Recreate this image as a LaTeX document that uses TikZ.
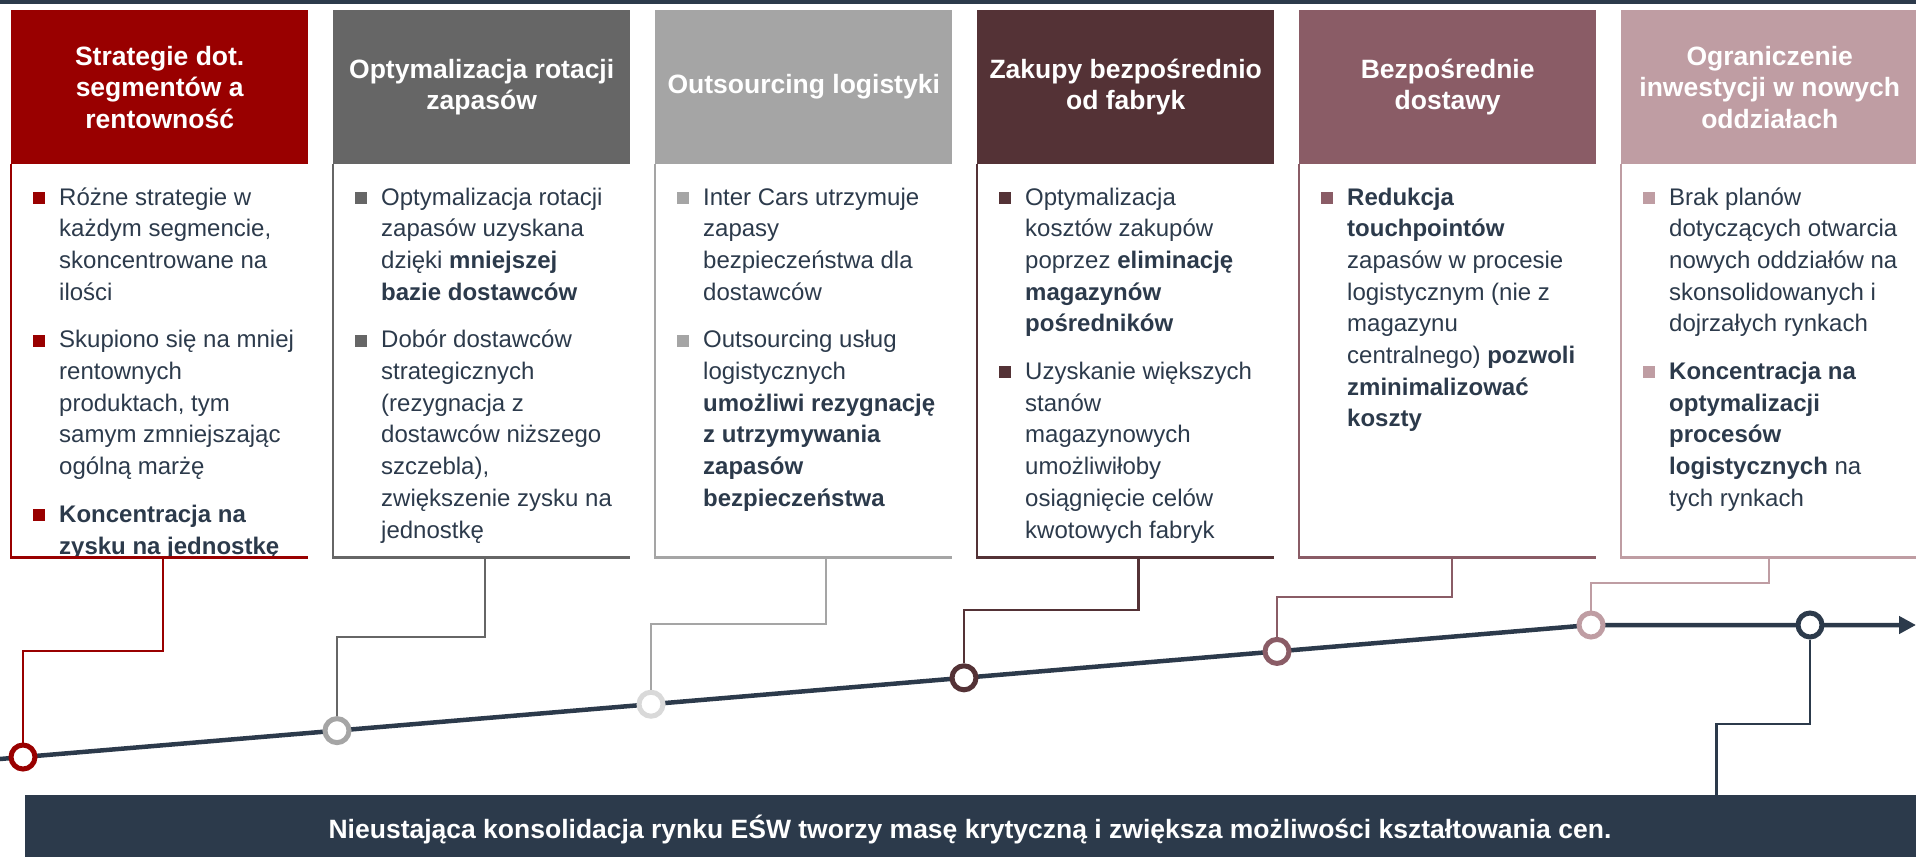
\documentclass[tikz,border=0pt]{standalone}
\usepackage{fontspec}
\setmainfont{Liberation Sans}
\usetikzlibrary{arrows.meta}
\definecolor{cA}{HTML}{990000}
\definecolor{cB}{HTML}{666666}
\definecolor{cC}{HTML}{A5A5A5}
\definecolor{cG}{HTML}{D9D9D9}
\definecolor{cD}{HTML}{543236}
\definecolor{cE}{HTML}{8A5C66}
\definecolor{cF}{HTML}{BF9DA3}
\definecolor{navy}{HTML}{2C3A4B}
\tikzset{
 hdr/.style={anchor=north west, minimum width=297pt, minimum height=154pt, inner sep=0pt, align=center, text=white, font=\fontsize{26.5}{31.5}\selectfont\bfseries},
 bodybox/.style={anchor=north west, minimum width=297pt, minimum height=393pt, inner sep=0pt},
 bord/.style={line width=2.5pt},
 bodytxt/.style={anchor=base west, inner sep=0pt, text=navy, font=\fontsize{24}{30}\selectfont},
 bsq/.style={anchor=south west, minimum size=12pt, inner sep=0pt, draw=none},
 conn/.style={line width=2.5pt},
 dot/.style={circle, draw, line width=5pt, fill=white, minimum size=24pt, inner sep=0pt},
 tl/.style={draw=navy, line width=4.5pt},
 bartxt/.style={anchor=base, inner sep=0pt, text=white, font=\fontsize{26.5}{30}\selectfont\bfseries},
}
\newcommand\bline[5]{\node[bodytxt] (#1) at ({#2+48},{205+31.7*#3+16*#4}) {#5};}
\newcommand\bsqr[5]{\node[bsq,fill=#5] (#1) at ({#2+22},{205+31.7*#3+16*#4-1}) {};}
\begin{document}
\begin{tikzpicture}[x=1pt,y=-1pt]
\useasboundingbox (0,0) rectangle (1916,857);
\fill[navy] (0,0) rectangle (1916,3.5);
% headers
\node[hdr,fill=cA] (h1) at (11,10) {Strategie dot.\\segmentów a\\rentowność};
\node[hdr,fill=cB] (h2) at (333,10) {Optymalizacja rotacji\\zapasów};
\node[hdr,fill=cC] (h3) at (655,10) {Outsourcing logistyki};
\node[hdr,fill=cD] (h4) at (977,10) {Zakupy bezpośrednio\\od fabryk};
\node[hdr,fill=cE] (h5) at (1299,10) {Bezpośrednie\\dostawy};
\node[hdr,fill=cF] (h6) at (1621,10) {Ograniczenie\\inwestycji w nowych\\oddziałach};
% body boxes
\node[bodybox] (b1) at (11,164) {};
\node[bodybox] (b2) at (333,164) {};
\node[bodybox] (b3) at (655,164) {};
\node[bodybox] (b4) at (977,164) {};
\node[bodybox] (b5) at (1299,164) {};
\node[bodybox] (b6) at (1621,164) {};
% box 1 text
\bsqr{s11}{11}{0}{0}{cA}
\bline{t11a}{11}{0}{0}{Różne strategie w}
\bline{t11b}{11}{1}{0}{każdym segmencie,}
\bline{t11c}{11}{2}{0}{skoncentrowane na}
\bline{t11d}{11}{3}{0}{ilości}
\bsqr{s12}{11}{4}{1}{cA}
\bline{t12a}{11}{4}{1}{Skupiono się na mniej}
\bline{t12b}{11}{5}{1}{rentownych}
\bline{t12c}{11}{6}{1}{produktach, tym}
\bline{t12d}{11}{7}{1}{samym zmniejszając}
\bline{t12e}{11}{8}{1}{ogólną marżę}
\bsqr{s13}{11}{9}{2}{cA}
\bline{t13a}{11}{9}{2}{\textbf{Koncentracja na}}
\bline{t13b}{11}{10}{2}{\textbf{zysku na jednostkę}}
% box 2 text
\bsqr{s21}{333}{0}{0}{cB}
\bline{t21a}{333}{0}{0}{Optymalizacja rotacji}
\bline{t21b}{333}{1}{0}{zapasów uzyskana}
\bline{t21c}{333}{2}{0}{dzięki \textbf{mniejszej}}
\bline{t21d}{333}{3}{0}{\textbf{bazie dostawców}}
\bsqr{s22}{333}{4}{1}{cB}
\bline{t22a}{333}{4}{1}{Dobór dostawców}
\bline{t22b}{333}{5}{1}{strategicznych}
\bline{t22c}{333}{6}{1}{(rezygnacja z}
\bline{t22d}{333}{7}{1}{dostawców niższego}
\bline{t22e}{333}{8}{1}{szczebla),}
\bline{t22f}{333}{9}{1}{zwiększenie zysku na}
\bline{t22g}{333}{10}{1}{jednostkę}
% box 3 text
\bsqr{s31}{655}{0}{0}{cC}
\bline{t31a}{655}{0}{0}{Inter Cars utrzymuje}
\bline{t31b}{655}{1}{0}{zapasy}
\bline{t31c}{655}{2}{0}{bezpieczeństwa dla}
\bline{t31d}{655}{3}{0}{dostawców}
\bsqr{s32}{655}{4}{1}{cC}
\bline{t32a}{655}{4}{1}{Outsourcing usług}
\bline{t32b}{655}{5}{1}{logistycznych}
\bline{t32c}{655}{6}{1}{\textbf{umożliwi rezygnację}}
\bline{t32d}{655}{7}{1}{\textbf{z utrzymywania}}
\bline{t32e}{655}{8}{1}{\textbf{zapasów}}
\bline{t32f}{655}{9}{1}{\textbf{bezpieczeństwa}}
% box 4 text
\bsqr{s41}{977}{0}{0}{cD}
\bline{t41a}{977}{0}{0}{Optymalizacja}
\bline{t41b}{977}{1}{0}{kosztów zakupów}
\bline{t41c}{977}{2}{0}{poprzez \textbf{eliminację}}
\bline{t41d}{977}{3}{0}{\textbf{magazynów}}
\bline{t41e}{977}{4}{0}{\textbf{pośredników}}
\bsqr{s42}{977}{5}{1}{cD}
\bline{t42a}{977}{5}{1}{Uzyskanie większych}
\bline{t42b}{977}{6}{1}{stanów}
\bline{t42c}{977}{7}{1}{magazynowych}
\bline{t42d}{977}{8}{1}{umożliwiłoby}
\bline{t42e}{977}{9}{1}{osiągnięcie celów}
\bline{t42f}{977}{10}{1}{kwotowych fabryk}
% box 5 text
\bsqr{s51}{1299}{0}{0}{cE}
\bline{t51a}{1299}{0}{0}{\textbf{Redukcja}}
\bline{t51b}{1299}{1}{0}{\textbf{touchpointów}}
\bline{t51c}{1299}{2}{0}{zapasów w procesie}
\bline{t51d}{1299}{3}{0}{logistycznym (nie z}
\bline{t51e}{1299}{4}{0}{magazynu}
\bline{t51f}{1299}{5}{0}{centralnego) \textbf{pozwoli}}
\bline{t51g}{1299}{6}{0}{\textbf{zminimalizować}}
\bline{t51h}{1299}{7}{0}{\textbf{koszty}}
% box 6 text
\bsqr{s61}{1621}{0}{0}{cF}
\bline{t61a}{1621}{0}{0}{Brak planów}
\bline{t61b}{1621}{1}{0}{dotyczących otwarcia}
\bline{t61c}{1621}{2}{0}{nowych oddziałów na}
\bline{t61d}{1621}{3}{0}{skonsolidowanych i}
\bline{t61e}{1621}{4}{0}{dojrzałych rynkach}
\bsqr{s62}{1621}{5}{1}{cF}
\bline{t62a}{1621}{5}{1}{\textbf{Koncentracja na}}
\bline{t62b}{1621}{6}{1}{\textbf{optymalizacji}}
\bline{t62c}{1621}{7}{1}{\textbf{procesów}}
\bline{t62d}{1621}{8}{1}{\textbf{logistycznych} na}
\bline{t62e}{1621}{9}{1}{tych rynkach}
% body borders
\draw[bord,cA] (b1.north west) -- (b1.south west) -- (b1.south east);
\draw[bord,cB] (b2.north west) -- (b2.south west) -- (b2.south east);
\draw[bord,cC] (b3.north west) -- (b3.south west) -- (b3.south east);
\draw[bord,cD] (b4.north west) -- (b4.south west) -- (b4.south east);
\draw[bord,cE] (b5.north west) -- (b5.south west) -- (b5.south east);
\draw[bord,cF] (b6.north west) -- (b6.south west) -- (b6.south east);
% timeline points
\coordinate (t0) at (0,759);
\coordinate (p1) at (23,757);
\coordinate (p2) at (337,730.6);
\coordinate (p3) at (651,704.2);
\coordinate (p4) at (964,677.8);
\coordinate (p5) at (1277,651.4);
\coordinate (p6) at (1591,625);
\coordinate (p7) at (1810,625);
\coordinate (tend) at (1916,625);
\draw[tl,-{Triangle[length=17pt,width=17pt]}] (t0) -- (p1) -- (p2) -- (p3) -- (p4) -- (p5) -- (p6) -- (tend);
% bottom bar
\node[fill=navy, anchor=north west, minimum width=1891.5pt, minimum height=62pt, inner sep=0pt] (bar) at (24.5,795) {};
\node[bartxt] (bartext) at (970,838) {Nieustająca konsolidacja rynku EŚW tworzy masę krytyczną i zwiększa możliwości kształtowania cen.};
% circles
\node[dot,draw=cA] (c1) at (p1) {};
\node[dot,draw=cC] (c2) at (p2) {};
\node[dot,draw=cG] (c3) at (p3) {};
\node[dot,draw=cD] (c4) at (p4) {};
\node[dot,draw=cE] (c5) at (p5) {};
\node[dot,draw=cF] (c6) at (p6) {};
\node[dot,draw=navy] (c7) at (p7) {};
% connectors
\coordinate (k1) at (163,557);
\coordinate (k2) at (485,557);
\coordinate (k3) at (826,557);
\coordinate (k4) at (1138.5,557);
\coordinate (k5) at (1452,557);
\coordinate (k6) at (1769,557);
\coordinate (k7) at (1716.5,795);
\draw[conn,cA] (k1) -- (163,651) -| (c1.north);
\draw[conn,cB] (k2) -- (485,637) -| (c2.north);
\draw[conn,cC] (k3) -- (826,624) -| (c3.north);
\draw[conn,cD] (k4) -- (1138.5,610) -| (c4.north);
\draw[conn,cE] (k5) -- (1452,597) -| (c5.north);
\draw[conn,cF] (k6) -- (1769,583) -| (c6.north);
\draw[conn,navy] (c7.south) -- (1810,724) -| (k7);
\end{tikzpicture}
\end{document}
